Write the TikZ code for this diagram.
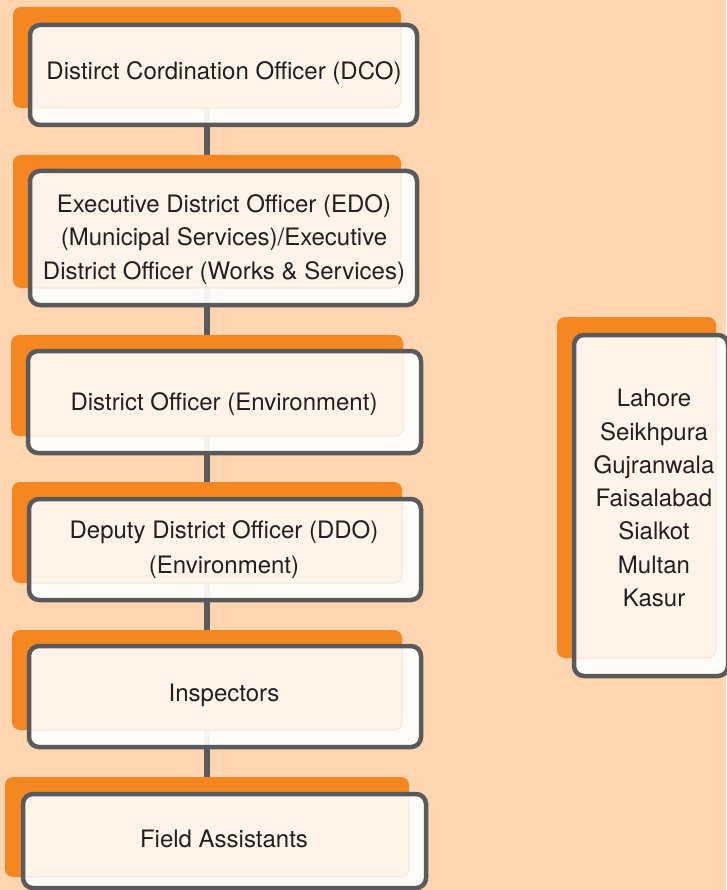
\documentclass[tikz,border=0pt]{standalone}
\usepackage{fontspec}
\setmainfont{TeX Gyre Heros}
\definecolor{peach}{HTML}{FDD5B0}
\definecolor{org}{HTML}{F58722}
\definecolor{cream}{HTML}{FFF4EA}
\definecolor{creamedge}{HTML}{FBE0C8}
\definecolor{edge}{HTML}{5A5A5C}
\definecolor{ink}{HTML}{231F20}
\newcommand\OrgBox[1]{%
  \fill[org, rounded corners=8] (#1-o1) rectangle (#1-o2);
  \fill[white, fill opacity=0.93, rounded corners=10] (#1-b1) rectangle (#1-b2);
  \begin{scope}
    \clip[rounded corners=10] (#1-b1) rectangle (#1-b2);
    \filldraw[fill=cream, draw=creamedge, line width=0.8, rounded corners=8] (#1-o1) rectangle (#1-o2);
  \end{scope}
  \draw[edge, line width=4.5, rounded corners=10] (#1-b1) rectangle (#1-b2);
}
\tikzset{
  lbl/.style={anchor=base, inner sep=0, text=ink, font=\fontsize{24}{33.3}\selectfont},
  conn/.style={edge, line width=6}
}
\begin{document}
\begin{tikzpicture}[x=1pt, y=-1pt]
\useasboundingbox (0,0) rectangle (726,890);
\fill[peach] (0,0) rectangle (726,890);
% geometry
\coordinate (dco-o1) at (13,7);   \coordinate (dco-o2) at (401,108);
\coordinate (dco-b1) at (30,25);  \coordinate (dco-b2) at (417,125);
\coordinate (edo-o1) at (13,155); \coordinate (edo-o2) at (401,288);
\coordinate (edo-b1) at (30,171); \coordinate (edo-b2) at (417,305);
\coordinate (doe-o1) at (11,335); \coordinate (doe-o2) at (403,436);
\coordinate (doe-b1) at (28,351); \coordinate (doe-b2) at (421,453);
\coordinate (ddo-o1) at (12,482); \coordinate (ddo-o2) at (402,583);
\coordinate (ddo-b1) at (29,499); \coordinate (ddo-b2) at (421,600);
\coordinate (ins-o1) at (12,630); \coordinate (ins-o2) at (402,730);
\coordinate (ins-b1) at (29,646); \coordinate (ins-b2) at (421,747);
\coordinate (fa-o1) at (5,777);   \coordinate (fa-o2) at (409,877);
\coordinate (fa-b1) at (23,794);  \coordinate (fa-b2) at (426,888);
\coordinate (city-o1) at (557,317); \coordinate (city-o2) at (716,658);
\coordinate (city-b1) at (574,335); \coordinate (city-b2) at (728,676);
\coordinate (cx) at (207,0);
% connectors
\draw[conn] (dco-b1 -| cx) -- (edo-o1 -| cx);
\draw[conn] (edo-b1 -| cx) -- (doe-o1 -| cx);
\draw[conn] (doe-b1 -| cx) -- (ddo-o1 -| cx);
\draw[conn] (ddo-b1 -| cx) -- (ins-o1 -| cx);
\draw[conn] (ins-b1 -| cx) -- (fa-o1 -| cx);
% boxes
\OrgBox{dco}
\OrgBox{edo}
\OrgBox{doe}
\OrgBox{ddo}
\OrgBox{ins}
\OrgBox{fa}
\OrgBox{city}
% texts
\node[lbl] (dco-t) at (224,80) {Distirct Cordination Officer (DCO)};
\node[lbl] (edo-t) at (224,212.7) {\begin{tabular}[t]{@{}c@{}}Executive District Officer (EDO)\\(Municipal Services)/Executive\\District Officer (Works \& Services)\end{tabular}};
\node[lbl] (doe-t) at (224,410) {District Officer (Environment)};
\node[lbl, font=\fontsize{24}{35}\selectfont] (ddo-t) at (224,538.5) {\begin{tabular}[t]{@{}c@{}}Deputy District Officer (DDO)\\(Environment)\end{tabular}};
\node[lbl] (ins-t) at (224,701.5) {Inspectors};
\node[lbl] (fa-t) at (224,847) {Field Assistants};
\node[lbl] (city-t) at (654,406.7) {\begin{tabular}[t]{@{}c@{}}Lahore\\Seikhpura\\Gujranwala\\Faisalabad\\Sialkot\\Multan\\Kasur\end{tabular}};
\end{tikzpicture}
\end{document}
